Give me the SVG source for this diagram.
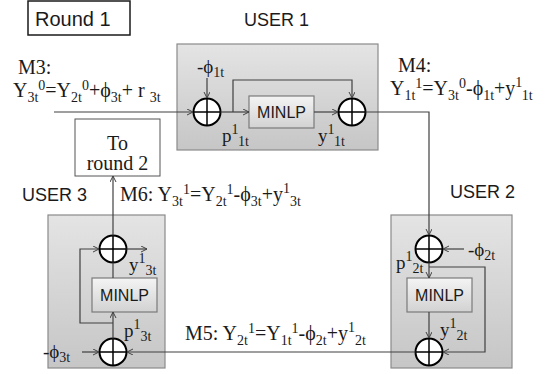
<svg xmlns="http://www.w3.org/2000/svg" width="549" height="374" viewBox="0 0 549 374">
<defs>
<linearGradient id="gUser" x1="0" y1="0" x2="0" y2="1">
<stop offset="0" stop-color="#e4e4e4"/>
<stop offset="1" stop-color="#c6c6c6"/>
</linearGradient>
<linearGradient id="gMin" x1="0" y1="0" x2="0" y2="1">
<stop offset="0" stop-color="#f4f4f4"/>
<stop offset="1" stop-color="#d2d2d2"/>
</linearGradient>
<marker id="arr" markerWidth="8" markerHeight="8" refX="6" refY="3" orient="auto" markerUnits="userSpaceOnUse">
<path d="M0,0 L6,3 L0,6" fill="none" stroke="#404040" stroke-width="1"/>
</marker>
</defs>
<style>
.ser{font-family:"Liberation Serif","Times New Roman",serif;font-size:20px;fill:#1a1a1a}
.lab{font-family:"Liberation Serif","Times New Roman",serif;font-size:19px;fill:#1a1a1a}
.s{font-size:14px}
.sans{font-family:"Liberation Sans",Arial,sans-serif;fill:#1a1a1a}
.ubox{fill:url(#gUser);stroke:#8a8a8a;stroke-width:1.2}
.mbox{fill:url(#gMin);stroke:#7a7a7a;stroke-width:1.2}
.sum circle{fill:#fff;stroke:#000;stroke-width:2}
.sum path{stroke:#000;stroke-width:1.5;fill:none}
.c{fill:none;stroke:#404040;stroke-width:1.2}
.ca{fill:none;stroke:#404040;stroke-width:1.2;marker-end:url(#arr)}
</style>

<g id="round1">
<rect x="28" y="1" width="102" height="34" fill="#fff" stroke="#1a1a1a" stroke-width="1.5"/>
<text class="sans" x="35" y="26" font-size="20">Round 1</text>
</g>

<g id="toround2">
<rect x="75" y="119" width="85" height="57" fill="#fff" stroke="#555" stroke-width="1"/>
<text class="ser" x="117.5" y="150" text-anchor="middle">To</text>
<text class="ser" x="117.5" y="170" text-anchor="middle">round 2</text>
</g>

<g id="user1">
<text class="sans" x="244" y="26" font-size="18">USER 1</text>
<rect class="ubox" x="177" y="44" width="201" height="106"/>
<rect class="mbox" x="249" y="96" width="65" height="32"/>
<text class="sans" x="281.5" y="118" font-size="16" text-anchor="middle">MINLP</text>
<g class="sum"><circle cx="207" cy="112" r="13.5"/><path d="M193.5,112H220.5M207,98.5V125.5"/></g>
<g class="sum"><circle cx="352" cy="112" r="13.5"/><path d="M338.5,112H365.5M352,98.5V125.5"/></g>
<text class="lab" x="197" y="73">-ϕ<tspan class="s" dy="4">1t</tspan></text>
<text class="lab" x="222" y="142">p<tspan class="s" dy="-8">1</tspan><tspan class="s" dy="12">1t</tspan></text>
<text class="lab" x="318" y="142">y<tspan class="s" dy="-8">1</tspan><tspan class="s" dy="12">1t</tspan></text>
</g>

<g id="user2">
<text class="sans" x="450" y="198" font-size="18">USER 2</text>
<rect class="ubox" x="391" y="215" width="121" height="153"/>
<rect class="mbox" x="407" y="278" width="65" height="34"/>
<text class="sans" x="439.5" y="301" font-size="16" text-anchor="middle">MINLP</text>
<g class="sum"><circle cx="429" cy="249" r="13.5"/><path d="M415.5,249H442.5M429,235.5V262.5"/></g>
<g class="sum"><circle cx="429" cy="352" r="13.5"/><path d="M415.5,352H442.5M429,338.5V365.5"/></g>
<text class="lab" x="468" y="256">-ϕ<tspan class="s" dy="4">2t</tspan></text>
<text class="lab" x="396" y="269">p<tspan class="s" dy="-8">1</tspan><tspan class="s" dy="12">2t</tspan></text>
<text class="lab" x="440" y="336">y<tspan class="s" dy="-8">1</tspan><tspan class="s" dy="12">2t</tspan></text>
</g>

<g id="user3">
<text class="sans" x="22" y="201" font-size="18">USER 3</text>
<rect class="ubox" x="48" y="215" width="117" height="153"/>
<rect class="mbox" x="92" y="278" width="65" height="34"/>
<text class="sans" x="124.5" y="301" font-size="16" text-anchor="middle">MINLP</text>
<g class="sum"><circle cx="113" cy="249" r="13.5"/><path d="M99.5,249H126.5M113,235.5V262.5"/></g>
<g class="sum"><circle cx="113" cy="352" r="13.5"/><path d="M99.5,352H126.5M113,338.5V365.5"/></g>
<text class="lab" x="43" y="358">-ϕ<tspan class="s" dy="4">3t</tspan></text>
<text class="lab" x="124" y="337">p<tspan class="s" dy="-8">1</tspan><tspan class="s" dy="12">3t</tspan></text>
<text class="lab" x="129" y="271">y<tspan class="s" dy="-8">1</tspan><tspan class="s" dy="12">3t</tspan></text>
</g>

<g id="labels">
<text class="ser" x="18" y="74">M3:</text>
<text class="ser" x="13" y="97">Y<tspan class="s" dy="5">3t</tspan><tspan class="s" dy="-12">0</tspan><tspan dy="7">=Y</tspan><tspan class="s" dy="5">2t</tspan><tspan class="s" dy="-12">0</tspan><tspan dy="7">+ϕ</tspan><tspan class="s" dy="5">3t</tspan><tspan dy="-5">+ r </tspan><tspan class="s" dy="5">3t</tspan></text>
<text class="ser" x="398" y="72">M4:</text>
<text class="ser" x="390" y="95">Y<tspan class="s" dy="5">1t</tspan><tspan class="s" dy="-12">1</tspan><tspan dy="7">=Y</tspan><tspan class="s" dy="5">3t</tspan><tspan class="s" dy="-12">0</tspan><tspan dy="7">-ϕ</tspan><tspan class="s" dy="5">1t</tspan><tspan dy="-5">+y</tspan><tspan class="s" dy="-8">1</tspan><tspan class="s" dy="13">1t</tspan></text>
<text class="ser" x="120" y="201">M6: Y<tspan class="s" dy="5">3t</tspan><tspan class="s" dy="-12">1</tspan><tspan dy="7">=Y</tspan><tspan class="s" dy="5">2t</tspan><tspan class="s" dy="-12">1</tspan><tspan dy="7">-ϕ</tspan><tspan class="s" dy="5">3t</tspan><tspan dy="-5">+y</tspan><tspan class="s" dy="-8">1</tspan><tspan class="s" dy="13">3t</tspan></text>
<text class="ser" x="185" y="340">M5: Y<tspan class="s" dy="5">2t</tspan><tspan class="s" dy="-12">1</tspan><tspan dy="7">=Y</tspan><tspan class="s" dy="5">1t</tspan><tspan class="s" dy="-12">1</tspan><tspan dy="7">-ϕ</tspan><tspan class="s" dy="5">2t</tspan><tspan dy="-5">+y</tspan><tspan class="s" dy="-8">1</tspan><tspan class="s" dy="13">2t</tspan></text>
</g>

<g id="connectors">
<path class="ca" d="M54,112H193"/>
<path class="ca" d="M207,78V98"/>
<path class="ca" d="M220.5,112H249"/>
<path class="ca" d="M233,112V80H352V98"/>
<path class="ca" d="M314,112H338"/>
<path class="ca" d="M365.5,112H429V235"/>
<path class="ca" d="M464,249H443"/>
<path class="ca" d="M429,262.5V278"/>
<path class="ca" d="M429,267H485V352H443"/>
<path class="ca" d="M429,312V338"/>
<path class="ca" d="M415.5,352H127"/>
<path class="ca" d="M82,352H99"/>
<path class="ca" d="M113,338.5V312"/>
<path class="ca" d="M113,323H80V249H99"/>
<path class="c" d="M113,278V262.5"/>
<path class="ca" d="M126.5,249H147"/>
<path class="ca" d="M113,235.5V176"/>
</g>
</svg>
